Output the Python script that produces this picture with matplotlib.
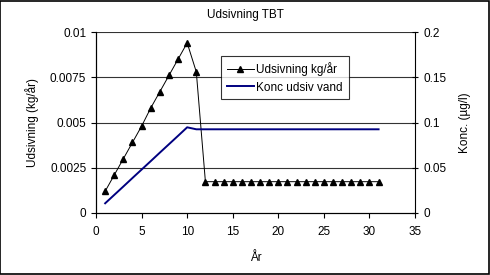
import matplotlib.pyplot as plt

plt.rcParams['font.family'] = ['Liberation Sans', 'DejaVu Sans']

aar = list(range(1, 32))
udsivning = [0.0012, 0.0021, 0.0030, 0.0039, 0.0048, 0.0058, 0.0067, 0.0076, 0.0085, 0.0094,
             0.0078] + [0.00173] * 20
konc = [0.0107, 0.0200, 0.0293, 0.0387, 0.0480, 0.0573, 0.0667, 0.0760, 0.0853, 0.0947] + [0.0925] * 21

fs = 8.5
fig = plt.figure(figsize=(4.9, 2.75), dpi=100)
ax = fig.add_axes([0.196, 0.2255, 0.651, 0.658])
ax2 = ax.twinx()

# gitterlinjer
for yv in [0.0025, 0.005, 0.0075, 0.01]:
    ax.axhline(yv, color='#333333', lw=0.8, zorder=0)

l1, = ax.plot(aar, udsivning, color='black', lw=0.7, marker='^', ms=5,
              markerfacecolor='black', label='Udsivning kg/år')
l2, = ax2.plot(aar, konc, color='#000080', lw=1.4, label='Konc udsiv vand')

ax.set_xlim(0, 35)
ax.set_ylim(0, 0.01)
ax2.set_ylim(0, 0.2)
ax.set_xticks(range(0, 36, 5))
ax.set_yticks([0, 0.0025, 0.005, 0.0075, 0.01])
ax.set_yticklabels(['0', '0.0025', '0.005', '0.0075', '0.01'])
ax2.set_yticks([0, 0.05, 0.1, 0.15, 0.2])
ax2.set_yticklabels(['0', '0.05', '0.1', '0.15', '0.2'])

for a in (ax, ax2):
    a.spines['top'].set_visible(False)
    a.tick_params(labelsize=fs, length=3.5, width=0.8, colors='black')
ax.tick_params(axis='x', pad=6)
ax2.tick_params(axis='y', direction='inout', length=5)
ax.spines['right'].set_visible(False)

ax.set_xlabel('År', fontsize=fs, labelpad=10)
ax.set_ylabel('Udsivning (kg/år)', fontsize=fs, labelpad=8)
ax2.set_ylabel('Konc. (µg/l)', fontsize=fs, labelpad=9)
fig.text(0.50, 0.945, 'Udsivning TBT', fontsize=fs, ha='center', va='center')

leg = fig.legend(handles=[l1, l2], loc='upper left', bbox_to_anchor=(0.451, 0.795),
                 fontsize=fs, frameon=True, fancybox=False, edgecolor='black',
                 borderpad=0.5, handlelength=2.3, handletextpad=0.2, labelspacing=0.45,
                 borderaxespad=0)
leg.get_frame().set_linewidth(0.8)

fig.patches.append(plt.Rectangle((0.001, 0.002), 0.997, 0.995, transform=fig.transFigure,
                                 fill=False, edgecolor='black', lw=1.2))

fig.savefig('out.png', dpi=100)
